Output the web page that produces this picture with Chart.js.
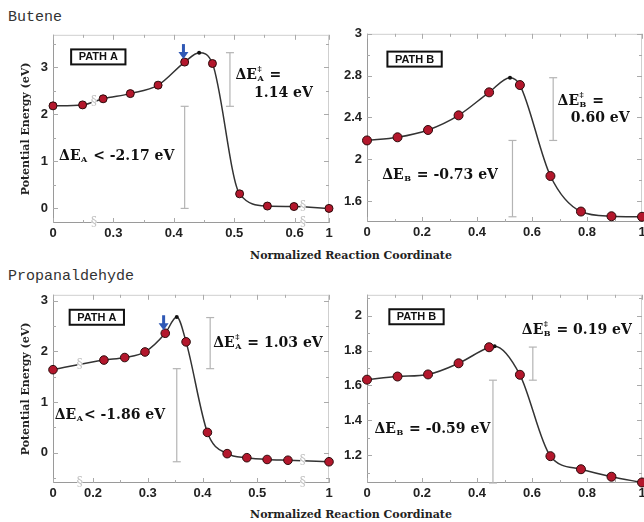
<!DOCTYPE html>
<html>
<head>
<meta charset="utf-8">
<script src="https://cdn.jsdelivr.net/npm/chart.js@4.4.0/dist/chart.umd.min.js"></script>
<style>
  body { margin: 0; background: #fff; width: 644px; height: 522px; overflow: hidden; position: relative; }
  canvas { position: absolute; }
  .mol { position: absolute; left: 8px; font-family: "Liberation Mono", monospace; font-size: 15px; line-height: 16px; color: #333; }
  .xtitle { position: absolute; left: 351px; transform: translateX(-50%); font-family: "DejaVu Serif", serif; font-weight: bold; font-size: 11px; line-height: 14px; color: #222; white-space: nowrap; }
</style>
</head>
<body>
<div class="mol" style="top:10px">Butene</div>
<div class="mol" style="top:269px">Propanaldehyde</div>
<div class="xtitle" style="top:249px">Normalized Reaction Coordinate</div>
<div class="xtitle" style="top:508px">Normalized Reaction Coordinate</div>

<canvas id="butA" width="326" height="225" style="left:13px;top:22px"></canvas>
<canvas id="butB" width="325" height="225" style="left:327px;top:21px"></canvas>
<canvas id="propA" width="326" height="225" style="left:13px;top:282px"></canvas>
<canvas id="propB" width="325" height="225" style="left:327px;top:282px"></canvas>

<script>
// ---- data (x in axis units; path A axes are broken near both ends) ----
const butAX = [0.2, 0.249, 0.283, 0.328, 0.374, 0.418, 0.442, 0.464, 0.509, 0.555, 0.599, 0.657];
const butAE = [2.18, 2.20, 2.33, 2.44, 2.62, 3.11, 3.31, 3.08, 0.31, 0.05, 0.04, 0.0];
const butAPeak = 6;
const butAXTicks = [0.2, 0.3, 0.4, 0.5, 0.6, 0.657];
const butAXLabels = ['0', '0.3', '0.4', '0.5', '0.6', '1'];
const butAYTicks = [0, 1, 2, 3];
const butAYLabels = ['0', '1', '2', '3'];

const butBX = [0, 0.111, 0.222, 0.333, 0.444, 0.52, 0.556, 0.667, 0.778, 0.889, 1];
const butBE = [2.18, 2.21, 2.28, 2.42, 2.64, 2.78, 2.71, 1.84, 1.50, 1.455, 1.45];
const butBPeak = 5;
const butBXTicks = [0, 0.2, 0.4, 0.6, 0.8, 1];
const butBXLabels = ['0', '0.2', '0.4', '0.6', '0.8', '1'];
const butBYTicks = [1.6, 2, 2.4, 2.8, 3.2];
const butBYLabels = ['1.6', '2', '2.4', '2.8', '3'];

const propAX = [0.127, 0.220, 0.258, 0.295, 0.332, 0.353, 0.370, 0.409, 0.445, 0.481, 0.518, 0.556, 0.631];
const propAE = [1.64, 1.83, 1.88, 1.99, 2.36, 2.68, 2.19, 0.40, -0.02, -0.10, -0.135, -0.15, -0.18];
const propAPeak = 5;
const propAXTicks = [0.127, 0.2, 0.3, 0.4, 0.5, 0.631];
const propAXLabels = ['0', '0.2', '0.3', '0.4', '0.5', '1'];
const propAYTicks = [0, 1, 2, 3];
const propAYLabels = ['0', '1', '2', '3'];

const propBX = [0, 0.111, 0.222, 0.333, 0.444, 0.464, 0.556, 0.667, 0.778, 0.889, 1];
const propBE = [1.633, 1.651, 1.663, 1.727, 1.819, 1.825, 1.661, 1.194, 1.119, 1.076, 1.043];
const propBPeak = 5;
const propBXTicks = [0, 0.2, 0.4, 0.6, 0.8, 1];
const propBXLabels = ['0', '0.2', '0.4', '0.6', '0.8', '1'];
const propBYTicks = [1.2, 1.4, 1.6, 1.8, 2];
const propBYLabels = ['1.2', '1.4', '1.6', '1.8', '2'];

// energy gap bars: [x, low, high]
const butABars = [[0.418, 0, 2.17], [0.493, 2.17, 3.31]];
const butBBars = [[0.529, 1.45, 2.18], [0.677, 2.18, 2.78]];
const propABars = [[0.353, -0.18, 1.66], [0.414, 1.66, 2.67]];
const propBBars = [[0.458, 1.04, 1.63], [0.603, 1.63, 1.82]];

Chart.defaults.font.family = '"Liberation Sans", Arial, sans-serif';
Chart.defaults.color = '#222';

const NOTE_FONT = '"DejaVu Serif", serif';

function line(ctx, x1, y1, x2, y2) {
  ctx.beginPath();
  ctx.moveTo(x1, y1);
  ctx.lineTo(x2, y2);
  ctx.stroke();
}

function drawNote(ctx, px, py, n) {
  ctx.fillStyle = '#111';
  ctx.textAlign = 'left';
  ctx.textBaseline = 'alphabetic';
  const base = py + 5;
  let cx = px;
  ctx.font = 'bold 14px ' + NOTE_FONT;
  if (n.sub) {
    ctx.fillText('ΔE', cx, base);
    cx += ctx.measureText('ΔE').width + 0.5;
    ctx.font = 'bold 8px ' + NOTE_FONT;
    let w = ctx.measureText(n.sub).width;
    ctx.fillText(n.sub, cx, base + 2);
    if (n.sup) {
      ctx.fillText('‡', cx, base - 8);
      w = Math.max(w, ctx.measureText('‡').width);
    }
    cx += w + 1;
    ctx.font = 'bold 14px ' + NOTE_FONT;
  }
  ctx.fillText(n.text, cx, base);
}

function decorFor(p) {
  return {
    id: 'decor',
    beforeDatasetsDraw(chart) {
      const { ctx, chartArea: a, scales: { x, y } } = chart;
      ctx.save();
      ctx.lineWidth = 1;
      // frame
      ctx.strokeStyle = '#cfcfcf';
      line(ctx, a.left, a.top + 0.5, a.right, a.top + 0.5);
      line(ctx, a.right - 0.5, a.top, a.right - 0.5, a.bottom);
      ctx.strokeStyle = '#9a9a9a';
      line(ctx, a.left + 0.5, a.top, a.left + 0.5, a.bottom);
      line(ctx, a.left, a.bottom - 0.5, a.right, a.bottom - 0.5);
      // inward tick marks
      ctx.strokeStyle = '#aaa';
      const tx = (vals, len) => vals.forEach(v => {
        const q = Math.round(x.getPixelForValue(v)) + 0.5;
        line(ctx, q, a.bottom, q, a.bottom - len);
        line(ctx, q, a.top, q, a.top + len);
      });
      const ty = (vals, len) => vals.forEach(v => {
        const q = Math.round(y.getPixelForValue(v)) + 0.5;
        line(ctx, a.left, q, a.left + len, q);
        line(ctx, a.right, q, a.right - len, q);
      });
      tx(p.xTicks, 5); tx(p.xMinor, 3);
      ty(p.yTicks, 5); ty(p.yMinor, 3);
      // gap bars
      ctx.strokeStyle = '#b4b4b4';
      ctx.lineWidth = 1.2;
      p.bars.forEach(([bx, lo, hi]) => {
        const q = x.getPixelForValue(bx);
        const y1 = y.getPixelForValue(lo), y2 = y.getPixelForValue(hi);
        line(ctx, q, y1, q, y2);
        line(ctx, q - 4, y1, q + 4, y1);
        line(ctx, q - 4, y2, q + 4, y2);
      });
      ctx.restore();
    },
    afterDatasetsDraw(chart) {
      const { ctx, chartArea: a, scales: { x, y } } = chart;
      ctx.save();
      // axis break marks
      ctx.font = '13px "DejaVu Serif", serif';
      ctx.textAlign = 'center';
      ctx.textBaseline = 'middle';
      (p.breaks || []).forEach(([bx, by]) => {
        const q = x.getPixelForValue(bx);
        [y.getPixelForValue(by), a.bottom].forEach(r => {
          ctx.fillStyle = '#fff';
          ctx.fillRect(q - 2.5, r - 4, 5, 8);
          ctx.fillStyle = '#c4c4c4';
          ctx.fillText('§', q, r);
        });
      });
      // blue arrow
      if (p.arrow) {
        const q = x.getPixelForValue(p.arrow[0]);
        const tip = y.getPixelForValue(p.arrow[1]) - 3;
        ctx.strokeStyle = '#2f58b5';
        ctx.fillStyle = '#2f58b5';
        ctx.lineWidth = 3;
        line(ctx, q, tip - 15, q, tip - 6);
        ctx.beginPath();
        ctx.moveTo(q - 5, tip - 7);
        ctx.lineTo(q + 5, tip - 7);
        ctx.lineTo(q, tip);
        ctx.closePath();
        ctx.fill();
      }
      // path label box
      const bx = x.getPixelForValue(p.box[0]), by = y.getPixelForValue(p.box[1]);
      ctx.font = 'bold 11px "Liberation Sans", Arial, sans-serif';
      const bw = ctx.measureText(p.box[2]).width + 15, bh = 15;
      ctx.fillStyle = '#fff';
      ctx.fillRect(bx - bw / 2, by - bh / 2, bw, bh);
      ctx.strokeStyle = '#111';
      ctx.lineWidth = 2;
      ctx.strokeRect(bx - bw / 2, by - bh / 2, bw, bh);
      ctx.fillStyle = '#111';
      ctx.textAlign = 'center';
      ctx.textBaseline = 'middle';
      ctx.fillText(p.box[2], bx, by + 0.5);
      // energy notes
      p.notes.forEach(n => drawNote(ctx, x.getPixelForValue(n.x), y.getPixelForValue(n.y), n));
      ctx.restore();
    }
  };
}

function makePanel(id, xs, es, peak, p) {
  const pts = xs.map((v, i) => ({ x: v, y: es[i] }));
  new Chart(document.getElementById(id), {
    type: 'line',
    data: {
      datasets: [
        {
          data: pts.filter((_, i) => i !== peak),
          showLine: false,
          pointRadius: p.radius,
          pointBackgroundColor: '#b3172c',
          pointBorderColor: '#2b0b0b',
          pointBorderWidth: 1,
          clip: false,
          order: 1
        },
        {
          data: [pts[peak]],
          showLine: false,
          pointRadius: 2,
          pointBackgroundColor: '#111',
          pointBorderWidth: 0,
          order: 2
        },
        {
          data: pts,
          borderColor: '#333',
          borderWidth: 1.5,
          pointRadius: 0,
          cubicInterpolationMode: 'monotone',
          order: 3
        }
      ]
    },
    options: {
      responsive: false,
      animation: false,
      layout: { padding: { top: 10, right: 10, left: 0, bottom: 0 } },
      plugins: { legend: { display: false }, tooltip: { enabled: false } },
      scales: {
        x: {
          type: 'linear',
          min: p.xMin, max: p.xMax,
          afterBuildTicks: s => { s.ticks = p.xTicks.map(v => ({ value: v })); },
          afterFit: s => { s.height = 24; },
          border: { display: false },
          grid: { display: false, drawTicks: false },
          ticks: {
            padding: 3,
            maxRotation: 0,
            font: { size: 13, weight: 'bold' },
            callback: (v, i) => p.xLabels[i]
          }
        },
        y: {
          min: p.yMin, max: p.yMax,
          afterBuildTicks: s => { s.ticks = p.yTicks.map(v => ({ value: v })); },
          afterFit: s => { s.width = 40; },
          border: { display: false },
          grid: { display: false, drawTicks: false },
          ticks: {
            padding: 5,
            font: { size: 13, weight: 'bold' },
            callback: (v, i) => p.yLabels[i]
          },
          title: {
            display: p.yTitle,
            text: 'Potential Energy (eV)',
            color: '#222',
            padding: { top: 7, bottom: 0 },
            font: { family: NOTE_FONT, size: 11, weight: 'bold' }
          }
        }
      }
    },
    plugins: [decorFor(p)]
  });
}

makePanel('butA', butAX, butAE, butAPeak, {
  xMin: 0.2, xMax: 0.657, xTicks: butAXTicks, xLabels: butAXLabels, xMinor: [0.25, 0.35, 0.45, 0.55],
  yMin: -0.31, yMax: 3.69, yTicks: butAYTicks, yLabels: butAYLabels, yMinor: [0.5, 1.5, 2.5, 3.5],
  yTitle: true, radius: 4, bars: butABars,
  breaks: [[0.268, 2.27], [0.614, 0.04]],
  arrow: [0.416, 3.11],
  box: [0.275, 3.22, 'PATH A'],
  notes: [
    { x: 0.502, y: 2.85, sub: 'A', sup: true, text: ' =' },
    { x: 0.533, y: 2.475, text: '1.14 eV' },
    { x: 0.21, y: 1.13, sub: 'A', text: ' < -2.17 eV' }
  ]
});

makePanel('butB', butBX, butBE, butBPeak, {
  xMin: 0, xMax: 1, xTicks: butBXTicks, xLabels: butBXLabels, xMinor: [0.1, 0.3, 0.5, 0.7, 0.9],
  yMin: 1.4, yMax: 3.2, yTicks: butBYTicks, yLabels: butBYLabels, yMinor: [1.8, 2.2, 2.6, 3.0],
  yTitle: false, radius: 4.5, bars: butBBars,
  box: [0.173, 2.958, 'PATH B'],
  notes: [
    { x: 0.693, y: 2.57, sub: 'B', sup: true, text: ' =' },
    { x: 0.741, y: 2.40, text: '0.60 eV' },
    { x: 0.055, y: 1.86, sub: 'B', text: ' = -0.73 eV' }
  ]
});

makePanel('propA', propAX, propAE, propAPeak, {
  xMin: 0.127, xMax: 0.631, xTicks: propAXTicks, xLabels: propAXLabels, xMinor: [0.25, 0.35, 0.45, 0.55],
  yMin: -0.6, yMax: 3.12, yTicks: propAYTicks, yLabels: propAYLabels, yMinor: [-0.5, 0.5, 1.5, 2.5],
  yTitle: true, radius: 4.3, bars: propABars,
  breaks: [[0.176, 1.74], [0.583, -0.16]],
  arrow: [0.329, 2.36],
  box: [0.207, 2.676, 'PATH A'],
  notes: [
    { x: 0.4196, y: 2.19, sub: 'A', sup: true, text: ' = 1.03 eV' },
    { x: 0.13, y: 0.766, sub: 'A', text: '< -1.86 eV' }
  ]
});

makePanel('propB', propBX, propBE, propBPeak, {
  xMin: 0, xMax: 1, xTicks: propBXTicks, xLabels: propBXLabels, xMinor: [0.1, 0.3, 0.5, 0.7, 0.9],
  yMin: 1.04, yMax: 2.12, yTicks: propBYTicks, yLabels: propBYLabels, yMinor: [1.1, 1.3, 1.5, 1.7, 1.9, 2.1],
  yTitle: false, radius: 4.5, bars: propBBars,
  box: [0.18, 1.994, 'PATH B'],
  notes: [
    { x: 0.563, y: 1.926, sub: 'B', sup: true, text: ' = 0.19 eV' },
    { x: 0.027, y: 1.354, sub: 'B', text: ' = -0.59 eV' }
  ]
});
</script>
</body>
</html>
